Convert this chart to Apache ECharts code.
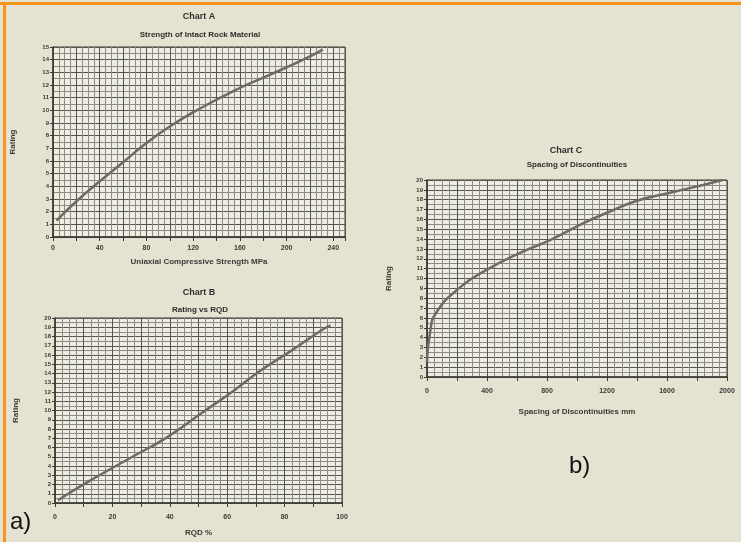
<!DOCTYPE html>
<html>
<head>
<meta charset="utf-8">
<script src="https://cdn.jsdelivr.net/npm/echarts@6/dist/echarts.min.js"></script>
<style>
html,body{margin:0;padding:0;background:#e5e2d2;}
#chart{width:741px;height:542px;}
</style>
</head>
<body>
<div id="chart"></div>
<script>
// Chart A: Strength of intact rock material
const strengthMPa = [3, 21, 40, 60, 77, 98, 123, 154, 183, 212, 231];
const strengthRating = [1.3, 2.9, 4.4, 5.9, 7.2, 8.6, 10.0, 11.5, 12.7, 13.9, 14.8];
// Chart B: Rating vs RQD
const rqdPercent = [1, 11, 27, 39, 51, 62.5, 72, 82.5, 93, 96];
const rqdRating = [0.3, 2.2, 5.0, 7.1, 9.7, 12.2, 14.4, 16.5, 18.7, 19.2];
// Chart C: Spacing of discontinuities
const spacingMM = [0, 20, 60, 220, 400, 620, 820, 1040, 1220, 1400, 1620, 1840, 1970];
const spacingRating = [1.5, 4.5, 6.5, 9.1, 10.9, 12.6, 13.9, 15.6, 16.8, 17.9, 18.7, 19.5, 20.0];

const titles = ['Chart A', 'Chart B', 'Chart C'];
const subtitles = ['Strength of Intact Rock Material', 'Rating vs RQD', 'Spacing of Discontinuities'];
const xNames = ['Uniaxial Compressive Strength MPa', 'RQD %', 'Spacing of Discontinuities mm'];
const yName = 'Rating';

const chart = echarts.init(document.getElementById('chart'));
const majorLine = {show: true, lineStyle: {color: '#56564e', width: 1}};
const minorLine = {show: true, lineStyle: {color: '#8f8d82', width: 1}};
const labelFont = {fontSize: 7, fontWeight: 'bold', color: '#3a3a34', fontFamily: 'Liberation Sans'};
const nameFont = {fontSize: 8, fontWeight: 'bold', color: '#3a3a34', fontFamily: 'Liberation Sans'};

function xAxis(i, max, interval, labelEvery, minorSplit, nameGap, margin) {
  return {
    type: 'value', gridIndex: i, min: 0, max: max, interval: interval,
    name: xNames[i], nameLocation: 'middle', nameGap: nameGap, nameTextStyle: nameFont,
    axisLine: {show: true, lineStyle: {color: '#3a3a34', width: 1.5}},
    axisTick: {show: true, length: 4, lineStyle: {color: '#3a3a34'}},
    axisLabel: Object.assign({margin: margin, formatter: v => (v % labelEvery === 0 ? String(v) : '')}, labelFont),
    splitLine: majorLine,
    minorTick: {show: false, splitNumber: minorSplit},
    minorSplitLine: minorLine
  };
}
function yAxis(i, max, nameGap) {
  return {
    type: 'value', gridIndex: i, min: 0, max: max, interval: 1,
    name: yName, nameLocation: 'middle', nameRotate: 90, nameGap: nameGap, nameTextStyle: nameFont,
    axisLine: {show: true, lineStyle: {color: '#3a3a34', width: 1.5}},
    axisTick: {show: true, length: 3, lineStyle: {color: '#3a3a34'}},
    axisLabel: Object.assign({margin: 4}, labelFont, {fontSize: 6}),
    splitLine: majorLine,
    minorTick: {show: false, splitNumber: 2},
    minorSplitLine: minorLine
  };
}
const gridStyle = {show: true, backgroundColor: '#eeede3', borderColor: '#3a3a34', borderWidth: 1};
const curveStyle = {color: '#6f6b60', width: 2.5};

function textEl(x, y, text, font, extra) {
  return Object.assign({type: 'text', x: x, y: y, style: {text: text, font: font, fill: '#2e2e2a', textAlign: 'center', textVerticalAlign: 'middle'}}, extra || {});
}

chart.setOption({
  backgroundColor: '#e5e2d2',
  animation: false,
  grid: [
    Object.assign({left: 53, top: 47, width: 292, height: 190}, gridStyle),
    Object.assign({left: 55, top: 318, width: 287, height: 185}, gridStyle),
    Object.assign({left: 427, top: 180, width: 300, height: 197}, gridStyle)
  ],
  xAxis: [
    xAxis(0, 250, 20, 40, 4, 21, 8),
    xAxis(1, 100, 10, 20, 4, 26, 11),
    xAxis(2, 2000, 200, 400, 4, 31, 11)
  ],
  yAxis: [yAxis(0, 15, 36), yAxis(1, 20, 35), yAxis(2, 20, 34)],
  series: [
    {type: 'line', xAxisIndex: 0, yAxisIndex: 0, smooth: true, showSymbol: false, lineStyle: curveStyle,
      data: strengthMPa.map((v, k) => [v, strengthRating[k]])},
    {type: 'line', xAxisIndex: 1, yAxisIndex: 1, smooth: true, showSymbol: false, lineStyle: curveStyle,
      data: rqdPercent.map((v, k) => [v, rqdRating[k]])},
    {type: 'line', xAxisIndex: 2, yAxisIndex: 2, smooth: true, showSymbol: false, lineStyle: curveStyle,
      data: spacingMM.map((v, k) => [v, spacingRating[k]])}
  ],
  graphic: [
    {type: 'rect', shape: {x: 0, y: 2, width: 741, height: 3}, style: {fill: '#f7941d'}},
    {type: 'rect', shape: {x: 3, y: 2, width: 3, height: 540}, style: {fill: '#f7941d'}},
    textEl(199, 17, titles[0], 'bold 9px "Liberation Sans"'),
    textEl(200, 35, subtitles[0], 'bold 8px "Liberation Sans"'),
    textEl(199, 293, titles[1], 'bold 9px "Liberation Sans"'),
    textEl(200, 310, subtitles[1], 'bold 8px "Liberation Sans"'),
    textEl(566, 151, titles[2], 'bold 9px "Liberation Sans"'),
    textEl(577, 165, subtitles[2], 'bold 8px "Liberation Sans"'),
    {type: 'text', x: 10, y: 522, style: {text: 'a)', font: '24px "Liberation Sans"', fill: '#111', textVerticalAlign: 'middle'}},
    {type: 'text', x: 569, y: 466, style: {text: 'b)', font: '24px "Liberation Sans"', fill: '#111', textVerticalAlign: 'middle'}}
  ]
});
</script>
</body>
</html>
